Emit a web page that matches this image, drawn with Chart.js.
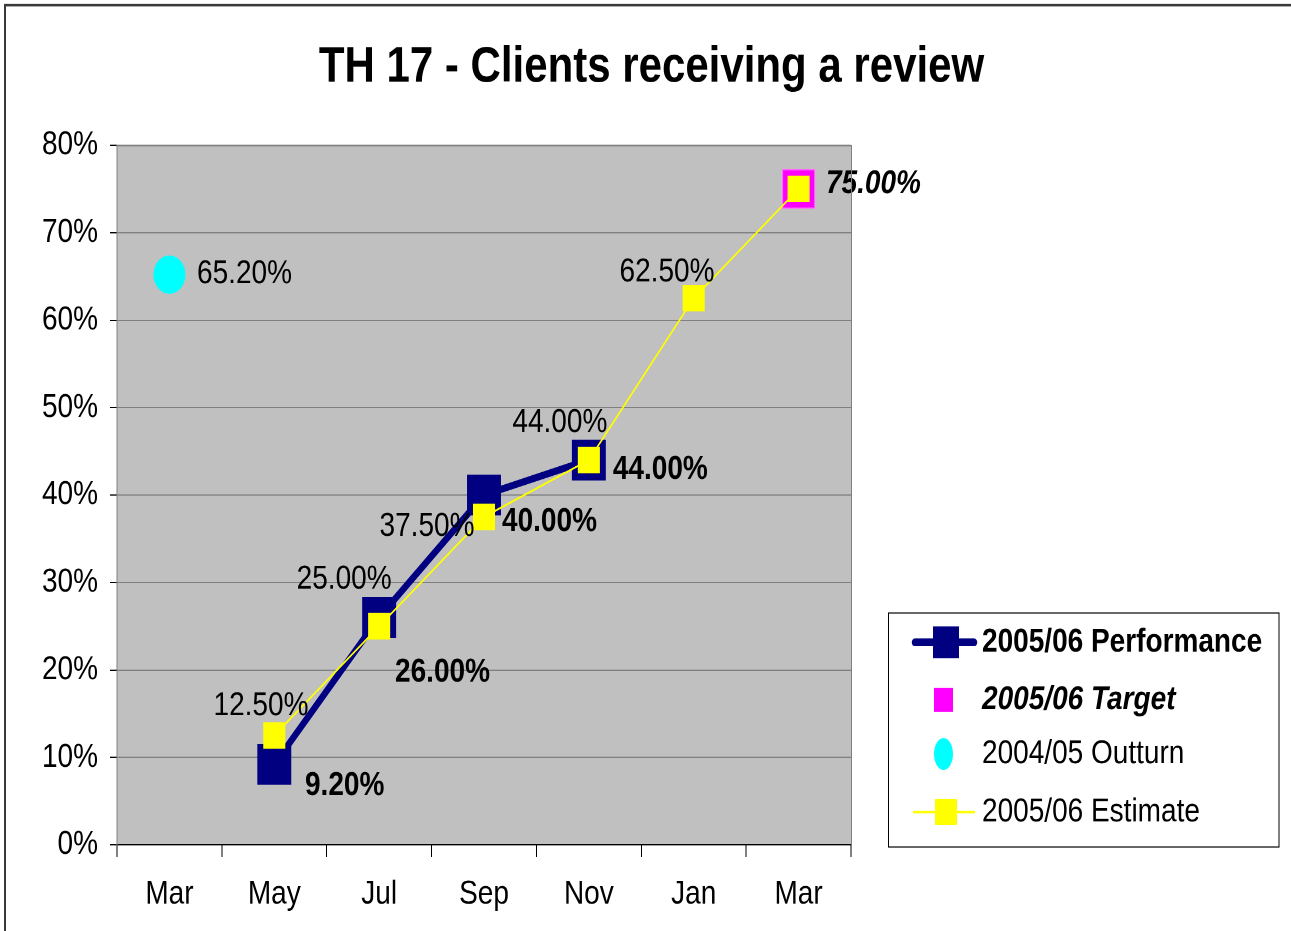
<!DOCTYPE html>
<html><head><meta charset="utf-8">
<script src="https://cdn.jsdelivr.net/npm/chart.js@4/dist/chart.umd.min.js"></script>
<style>
html,body{margin:0;padding:0;background:#fff;}
#outer{width:1291px;height:931px;position:relative;overflow:hidden;}
#wrap{position:absolute;left:0;top:0;width:1291px;height:776px;transform:scale(1,1.2);transform-origin:0 0;}
canvas{display:block;}
</style></head><body>
<div id="outer"><div id="wrap"><canvas id="c" style="width:1291px;height:776px"></canvas></div></div>
<script>
// ---- data ----
const chartTitle = 'TH 17 - Clients receiving a review';
const categories = ['Mar', 'May', 'Jul', 'Sep', 'Nov', 'Jan', 'Mar'];
const seriesNames = ['2005/06 Performance', '2005/06 Target', '2004/05 Outturn', '2005/06 Estimate'];
const performance = [null, 9.2, 26, 40, 44, null, null];
const target = [null, null, null, null, null, null, 75];
const outturn = [65.2, null, null, null, null, null, null];
const estimate = [null, 12.5, 25, 37.5, 44, 62.5, 75];
const yTickLabels = ['0%', '10%', '20%', '30%', '40%', '50%', '60%', '70%', '80%'];

const FONT = "'Liberation Sans', Arial, sans-serif";
const NAVY = '#000080', MAGENTA = '#FF00FF', CYAN = '#00FFFF', YELLOW = '#FFFF00';

// label placement per dataset/point: [dx, dy, align]
const labelPlacement = [
  { font: 'bold 28px ' + FONT, pts: [null, [30.7, 18, 'left'], [15.9, 46, 'left'], [18, 22.5, 'left'], [24, 8, 'left'], null, null] },
  { font: 'italic bold 28px ' + FONT, pts: [null, null, null, null, null, null, [27.4, -4.3, 'left']] },
  { font: '28px ' + FONT, pts: [[27.6, -0.5, 'left'], null, null, null, null, null, null] },
  { font: '28px ' + FONT, pts: [null, [-13.3, -24.5, 'center'], [-35, -39.2, 'center'], [-57, 8.2, 'center'], [-29, -31, 'center'], [-26.7, -22, 'center'], null] }
];

const decorPlugin = {
  id: 'decor',
  beforeDraw(chart) {
    const { ctx, chartArea: a } = chart;
    ctx.save();
    ctx.fillStyle = '#C0C0C0';
    ctx.fillRect(a.left, a.top, a.right - a.left, a.bottom - a.top);
    ctx.restore();
  },
  afterDatasetsDraw(chart) {
    const { ctx } = chart;
    chart.data.datasets.forEach((ds, di) => {
      const meta = chart.getDatasetMeta(di);
      const pl = labelPlacement[di];
      meta.data.forEach((el, i) => {
        const v = ds.data[i];
        const p = pl.pts[i];
        if (v == null || !p) return;
        ctx.save();
        ctx.font = pl.font;
        ctx.fillStyle = '#000';
        ctx.textAlign = p[2];
        ctx.textBaseline = 'middle';
        ctx.fillText(v.toFixed(2) + '%', el.x + p[0], el.y + p[1]);
        ctx.restore();
      });
    });
  },
  afterDraw(chart) {
    const { ctx, chartArea: a } = chart;
    ctx.save();
    // plot frame (right + top)
    ctx.strokeStyle = '#808080';
    ctx.lineWidth = 1;
    ctx.beginPath();
    ctx.moveTo(a.left, a.top + 0.5); ctx.lineTo(a.right + 0.5, a.top + 0.5); ctx.lineTo(a.right + 0.5, a.bottom);
    ctx.stroke();
    // outer border
    ctx.strokeStyle = '#3a3a3a';
    ctx.lineWidth = 2;
    ctx.strokeRect(5, 4.3, 1400, 900);
    // title
    ctx.fillStyle = '#000';
    ctx.font = 'bold 42px ' + FONT;
    ctx.textAlign = 'center';
    ctx.textBaseline = 'alphabetic';
    ctx.fillText(chartTitle, 651.5, 68);
    // legend
    ctx.lineWidth = 1;
    ctx.strokeStyle = '#000';
    ctx.strokeRect(888.5, 510.8, 390.5, 195);
    const rows = [535.3, 583.3, 628.3, 676.7];
    const fonts = ['bold 28px ' + FONT, 'italic bold 28px ' + FONT, '28px ' + FONT, '28px ' + FONT];
    // row 1: performance
    ctx.strokeStyle = NAVY; ctx.lineWidth = 6.5; ctx.lineCap = 'round';
    ctx.beginPath(); ctx.moveTo(915, rows[0]); ctx.lineTo(974, rows[0]); ctx.stroke();
    ctx.fillStyle = NAVY; ctx.fillRect(933, rows[0] - 13.3, 26, 26.6);
    // row 2: target
    ctx.fillStyle = MAGENTA; ctx.fillRect(934, rows[1] - 10, 19, 20);
    // row 3: outturn
    ctx.fillStyle = CYAN; ctx.beginPath(); ctx.ellipse(943.5, rows[2], 9.5, 13.3, 0, 0, Math.PI * 2); ctx.fill();
    // row 4: estimate
    ctx.strokeStyle = YELLOW; ctx.lineWidth = 2; ctx.lineCap = 'butt';
    ctx.beginPath(); ctx.moveTo(913, rows[3]); ctx.lineTo(975, rows[3]); ctx.stroke();
    ctx.fillStyle = YELLOW; ctx.fillRect(935, rows[3] - 10.8, 22, 21.6);
    ctx.fillStyle = '#000';
    ctx.textAlign = 'left'; ctx.textBaseline = 'middle';
    seriesNames.forEach((n, i) => { ctx.font = fonts[i]; ctx.fillText(n, 982, rows[i]); });
    ctx.restore();
  }
};

new Chart(document.getElementById('c'), {
  type: 'line',
  data: {
    labels: categories,
    datasets: [
      { label: seriesNames[0], data: performance, order: 2, borderColor: NAVY, backgroundColor: NAVY, borderWidth: 6,
        pointStyle: 'rect', pointRadius: 24, pointBorderWidth: 0, pointBackgroundColor: NAVY, pointBorderColor: NAVY },
      { label: seriesNames[1], data: target, order: 1, showLine: false, pointStyle: 'rect', pointRadius: 22.6,
        pointBackgroundColor: MAGENTA, pointBorderColor: '#FF66FF', pointBorderWidth: 1 },
      { label: seriesNames[2], data: outturn, order: 3, showLine: false, pointStyle: 'circle', pointRadius: 16,
        pointBackgroundColor: CYAN, pointBorderColor: CYAN, pointBorderWidth: 0 },
      { label: seriesNames[3], data: estimate, order: 0, borderColor: YELLOW, backgroundColor: YELLOW, borderWidth: 1.6,
        pointStyle: 'rect', pointRadius: 15.6, pointBorderWidth: 0, pointBackgroundColor: YELLOW, pointBorderColor: YELLOW }
    ]
  },
  options: {
    responsive: false,
    devicePixelRatio: 2,
    animation: false,
    events: [],
    layout: { padding: { left: 0, top: 121, right: 440, bottom: 0 } },
    plugins: { legend: { display: false }, title: { display: false }, tooltip: { enabled: false } },
    elements: { line: { tension: 0 } },
    scales: {
      x: {
        type: 'category',
        offset: true,
        grid: { offset: true, drawOnChartArea: false, drawTicks: true, tickLength: 10, tickColor: '#000', color: '#000' },
        border: { color: '#000', width: 1 },
        ticks: { color: '#000', font: { family: FONT, size: 28 }, padding: 14.5, maxRotation: 0, autoSkip: false },
        afterFit: s => { s.height = 72; }
      },
      y: {
        min: 0, max: 80,
        grid: { color: '#808080', lineWidth: 1, tickLength: 7, tickColor: '#000' },
        border: { color: '#808080', width: 1 },
        ticks: { stepSize: 10, color: '#000', font: { family: FONT, size: 28 }, padding: 12,
          callback: (v, i) => yTickLabels[i] },
        afterFit: s => { s.width = 117; }
      }
    }
  },
  plugins: [decorPlugin]
});
</script>
</body></html>
